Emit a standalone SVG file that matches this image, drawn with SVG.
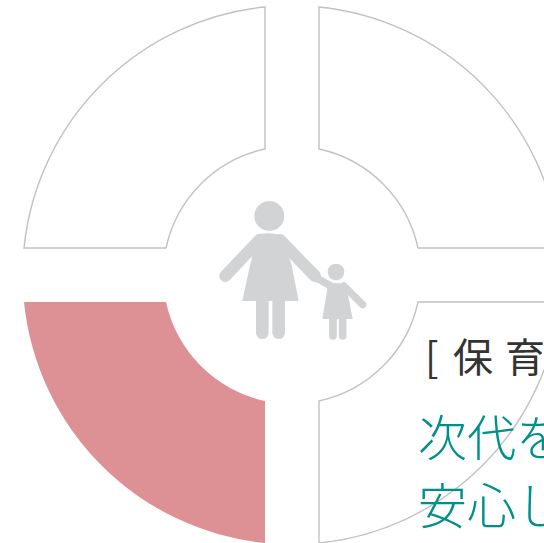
<svg xmlns="http://www.w3.org/2000/svg" width="544" height="543" viewBox="0 0 544 543">
<style>
.q{fill:#fff;stroke:#c2c2c2;stroke-width:1.4}
.f{fill:#d1d3d4}
.l{fill:none;stroke:#d1d3d4;stroke-linecap:round}
.t{font-family:"Noto Sans CJK JP","Noto Sans",sans-serif}
</style>
<rect width="544" height="543" fill="#fff"/>
<g id="quadrant-top-left"><path class="q" d="M265 7A269.4 269.4 0 0 0 24 248H166A129 129 0 0 1 265 149Z"/></g>
<g id="quadrant-top-right"><path class="q" d="M319 7A269.4 269.4 0 0 1 560 248H418A129 129 0 0 0 319 149Z"/></g>
<g id="quadrant-bottom-right"><path class="q" d="M319 543A269.4 269.4 0 0 0 560 302H418A129 129 0 0 1 319 401Z"/></g>
<g id="quadrant-bottom-left"><path d="M265 543A269.4 269.4 0 0 1 24 302H166A129 129 0 0 0 265 401Z" fill="#dd9195"/></g>
<g id="figures" transform="translate(200 190) scale(.3333)">
<circle class="f" cx="208" cy="78" r="45"/>
<path class="f" d="M175 132Q210 126 245 135L275 225 296 333H127L150 225Z"/>
<path class="l" stroke-width="36" d="M76 258L178 150M240 150L345 258"/>
<path class="l" stroke-width="38" d="M187 335V428M236 335V428"/>
<circle class="f" cx="408" cy="246" r="25"/>
<path class="f" d="M385 280H430L445 320 458 387H367L378 320Z"/>
<path class="l" stroke-width="22" d="M345 262L400 292M432 288L488 344"/>
<path class="l" stroke-width="23" d="M399 387V438M428 387V438"/>
</g>
<g id="label">
<text class="t" x="425 453 505" y="372" font-size="40" fill="#333">[保育</text>
<text class="t" x="418 467 516" y="456" font-size="49" font-weight="300" fill="#00908a">次代を</text>
<text class="t" x="418 467 516" y="524" font-size="49" font-weight="300" fill="#00908a">安心し</text>
</g>
</svg>
